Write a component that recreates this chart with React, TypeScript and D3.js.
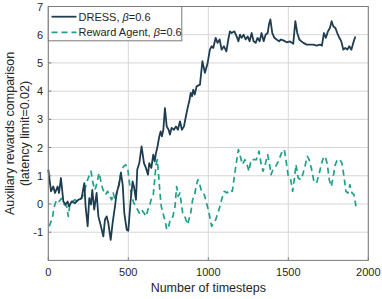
import React from "react";
import * as d3 from "d3";

const dressT = [0, 17, 31, 42, 58, 67, 79, 94, 108, 121, 129, 146, 167, 188, 208, 225, 233, 246, 256, 267, 275, 287, 302, 313, 329, 344, 354, 365, 375, 390, 402, 417, 427, 442, 454, 465, 475, 490, 500, 515, 527, 535, 548, 556, 569, 583, 598, 610, 623, 631, 644, 656, 665, 673, 681, 694, 702, 710, 719, 729, 740, 752, 760, 771, 785, 798, 810, 823, 835, 848, 860, 873, 881, 890, 898, 906, 915, 927, 948, 963, 979, 996, 1010, 1021, 1031, 1046, 1058, 1071, 1083, 1098, 1113, 1125, 1135, 1146, 1163, 1177, 1188, 1198, 1208, 1221, 1233, 1246, 1258, 1271, 1283, 1296, 1308, 1321, 1333, 1346, 1358, 1371, 1379, 1388, 1400, 1413, 1427, 1442, 1454, 1469, 1490, 1510, 1531, 1544, 1556, 1569, 1581, 1594, 1615, 1635, 1656, 1677, 1698, 1710, 1723, 1735, 1748, 1760, 1771, 1781, 1794, 1806, 1819, 1831, 1844, 1856, 1869, 1881, 1894, 1906, 1919];
const dressV = [1.22, 0.45, 0.62, 0.39, 0.62, 0.39, 0.92, 0.09, -0.02, 0.09, -0.08, 0.09, 0.03, 0.15, 0.2, 0.74, -0.08, -0.79, 0.21, -0.02, 0.5, -0.2, 0.39, -0.44, -0.79, -1.15, -0.56, -0.44, -0.67, -1.27, -0.67, -0.08, 0.39, 0.68, 1.1, 0.68, -0.32, -0.91, -0.95, 0.15, 0.8, 0.62, 0.15, 1.22, 1.45, 2.04, 1.45, 1.28, 1.04, 1.45, 1.28, 1.75, 1.51, 1.81, 1.99, 2.4, 2.57, 2.4, 2.63, 3.4, 2.75, 2.63, 2.46, 2.7, 2.63, 2.75, 2.63, 2.93, 2.63, 2.75, 3.11, 3.46, 3.64, 3.94, 3.82, 4.05, 3.88, 4.17, 4.23, 5.06, 4.65, 5.0, 5.47, 5.59, 5.53, 5.89, 5.71, 5.83, 5.47, 5.59, 5.41, 5.83, 6.12, 6.06, 6.12, 5.94, 5.77, 6.0, 5.89, 6.0, 5.83, 5.94, 5.77, 6.06, 5.77, 5.71, 5.89, 5.77, 6.06, 5.77, 6.0, 6.06, 6.36, 6.54, 6.06, 5.89, 5.83, 5.77, 5.83, 5.8, 5.73, 5.76, 5.68, 6.48, 6.06, 5.83, 5.77, 5.71, 5.65, 5.65, 5.65, 5.61, 5.65, 5.61, 6.06, 5.89, 6.12, 6.24, 6.48, 6.3, 6.24, 6.06, 5.89, 5.77, 5.47, 5.53, 5.47, 5.59, 5.47, 5.71, 5.94];

const rewardT = [6, 25, 38, 52, 67, 83, 100, 115, 125, 135, 150, 167, 183, 198, 213, 225, 238, 250, 267, 279, 292, 304, 317, 329, 338, 346, 358, 371, 385, 396, 406, 417, 433, 446, 458, 471, 483, 496, 510, 521, 535, 552, 569, 583, 598, 610, 623, 635, 648, 656, 665, 673, 681, 690, 698, 706, 719, 731, 740, 752, 760, 773, 781, 792, 802, 812, 823, 831, 840, 850, 860, 871, 881, 890, 902, 915, 923, 935, 944, 958, 975, 1000, 1021, 1046, 1067, 1083, 1100, 1117, 1133, 1150, 1163, 1175, 1188, 1200, 1213, 1229, 1242, 1254, 1267, 1283, 1300, 1317, 1329, 1342, 1358, 1371, 1383, 1392, 1404, 1421, 1438, 1458, 1475, 1485, 1500, 1515, 1527, 1540, 1548, 1562, 1577, 1590, 1604, 1619, 1631, 1646, 1660, 1677, 1694, 1706, 1719, 1731, 1744, 1756, 1769, 1781, 1794, 1806, 1823, 1835, 1848, 1860, 1873, 1885, 1898, 1910, 1923];
const rewardV = [-0.79, -0.5, -0.08, 0.15, 0.09, 0.2, -0.02, -0.08, -0.44, -0.02, 0.09, 0.15, 0.09, 0.15, 0.27, 0.39, 0.74, 0.92, 1.16, 0.74, 0.5, 0.74, 1.1, 0.8, 0.57, 0.45, 0.33, 0.45, 0.27, 0.15, 0.39, 0.15, 0.45, 0.86, 1.22, 1.33, 1.39, 1.28, 0.62, 0.27, 0.03, -0.14, -0.32, -0.2, -0.32, -0.44, -0.2, -0.02, 0.27, 0.33, 0.86, 1.39, 1.57, 0.98, 0.39, -0.08, -0.38, -0.62, -0.91, -0.79, -0.62, -0.56, -0.38, -0.08, 0.62, 0.27, 0.39, 0.03, -0.32, -0.38, -0.56, -0.73, -0.5, -0.32, 0.15, 0.33, 0.62, 0.86, 0.74, 0.45, 0.33, -0.2, -0.79, -0.56, -0.2, 0.15, 0.45, 0.39, 0.5, 0.45, 0.98, 1.45, 1.93, 1.69, 1.4, 1.57, 1.4, 1.16, 1.57, 1.57, 1.57, 1.87, 1.45, 1.16, 1.45, 1.75, 1.4, 1.04, 1.22, 1.33, 1.51, 1.81, 1.93, 1.57, 0.98, 0.86, 0.45, 0.98, 1.4, 0.92, 0.86, 1.04, 1.33, 1.69, 1.57, 1.22, 0.8, 0.74, 1.1, 1.4, 1.63, 1.69, 1.4, 0.86, 0.62, 0.98, 1.4, 1.57, 1.57, 1.45, 0.98, 0.45, 0.39, 0.68, 0.39, 0.33, -0.08];

const xTicks = [0, 500, 1000, 1500, 2000];
const yTicks = [-1, 0, 1, 2, 3, 4, 5, 6, 7];

const W = 382;
const H = 299;
const M = { left: 48.3, right: 368.3, top: 6.5, bottom: 260.4 };
const FONT = "'Liberation Sans', Arial, Helvetica, sans-serif";
const DRESS_COLOR = "#1f3d50";
const REWARD_COLOR = "#20a08a";

export default function App() {
  const x = d3.scaleLinear().domain([0, 2000]).range([M.left, M.right]);
  const y = d3.scaleLinear().domain([-2, 7]).range([M.bottom, M.top]);
  const line = d3
    .line<[number, number]>()
    .x((d) => x(d[0]))
    .y((d) => y(d[1]));
  const dress = dressT.map((t, i) => [t, dressV[i]] as [number, number]);
  const reward = rewardT.map((t, i) => [t, rewardV[i]] as [number, number]);

  return (
    <svg
      width={W}
      height={H}
      style={{ position: "absolute", left: 0, top: 0, background: "#fff" }}
      fontFamily={FONT}
    >
      <rect x={0} y={0} width={W} height={H} fill="#fff" />
      {xTicks.map((t) => (
        <line key={"gx" + t} x1={x(t)} x2={x(t)} y1={M.top} y2={M.bottom} stroke="#d6d6d6" strokeWidth={1} />
      ))}
      {yTicks.map((t) => (
        <line key={"gy" + t} x1={M.left} x2={M.right} y1={y(t)} y2={y(t)} stroke="#d6d6d6" strokeWidth={1} />
      ))}
      <path d={line(reward) || ""} fill="none" stroke={REWARD_COLOR} strokeWidth={1.7} strokeDasharray="6,4" strokeLinejoin="round" />
      <path d={line(dress) || ""} fill="none" stroke={DRESS_COLOR} strokeWidth={1.8} strokeLinejoin="round" />
      <rect x={M.left} y={M.top} width={M.right - M.left} height={M.bottom - M.top} fill="none" stroke="#7a7a7a" strokeWidth={1} />
      {xTicks.map((t) => (
        <g key={"tx" + t}>
          <line x1={x(t)} x2={x(t)} y1={M.bottom} y2={M.bottom - 3} stroke="#7a7a7a" />
          <text x={x(t)} y={275.5} fontSize={11} textAnchor="middle" fill="#262626">{t}</text>
        </g>
      ))}
      {yTicks.map((t) => (
        <g key={"ty" + t}>
          <line x1={M.left} x2={M.left + 3} y1={y(t)} y2={y(t)} stroke="#7a7a7a" />
          <text x={43} y={y(t) + 4} fontSize={11} textAnchor="end" fill="#262626">{t}</text>
        </g>
      ))}
      <text x={(M.left + M.right) / 2} y={292} fontSize={12.5} textAnchor="middle" fill="#262626">Number of timesteps</text>
      <g transform={`translate(14, ${(M.top + M.bottom) / 2}) rotate(-90)`}>
        <text x={0} y={0} fontSize={12.5} textAnchor="middle" fill="#262626">Auxiliary rewards comparison</text>
        <text x={0} y={15} fontSize={12.5} textAnchor="middle" fill="#262626">(latency limit=0.02)</text>
      </g>
      <rect x={M.left} y={M.top} width={133.5} height={34.3} fill="#fff" stroke="#7a7a7a" strokeWidth={1} />
      <line x1={51.5} x2={76.5} y1={16.7} y2={16.7} stroke={DRESS_COLOR} strokeWidth={1.8} />
      <text x={78.5} y={20.5} fontSize={11} fill="#262626">
        DRESS, <tspan fontStyle="italic">β</tspan>=0.6
      </text>
      <line x1={51.5} x2={76.5} y1={32.3} y2={32.3} stroke={REWARD_COLOR} strokeWidth={1.7} strokeDasharray="6,4" />
      <text x={78.5} y={36} fontSize={11} fill="#262626">
        Reward Agent, <tspan fontStyle="italic">β</tspan>=0.6
      </text>
    </svg>
  );
}
